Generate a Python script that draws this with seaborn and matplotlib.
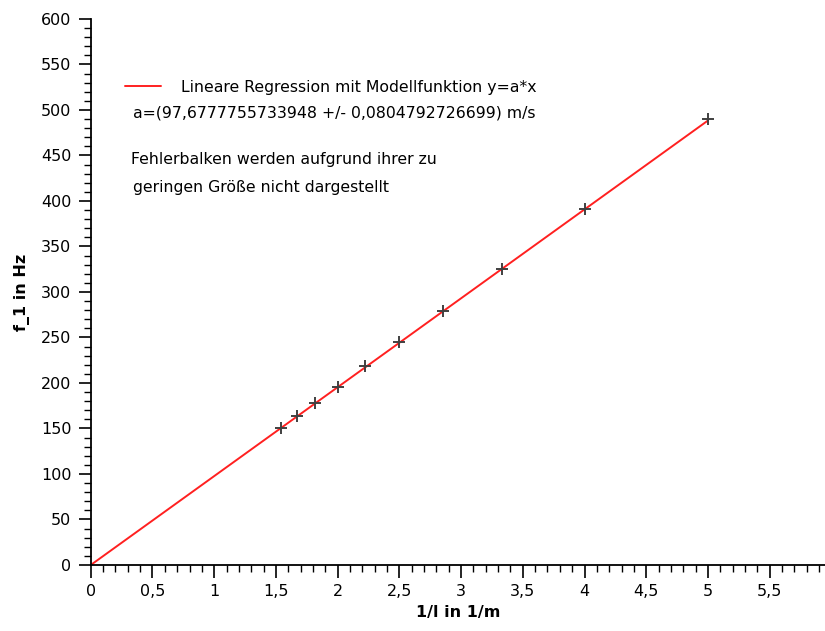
import numpy as np
import seaborn as sns
import matplotlib.pyplot as plt
from matplotlib.ticker import MultipleLocator, FuncFormatter

# Messwerte: inverse Saitenlaenge und Grundfrequenz
inv_length = [1.538, 1.667, 1.818, 2.0, 2.222, 2.5, 2.857, 3.333, 4.0, 5.0]
f1 = [150.5, 163.5, 178.0, 195.5, 218.5, 244.5, 279.5, 325.5, 391.0, 489.5]

# Regression y = a*x
a_fit = 97.6777755733948
fit_x = np.array([0.0, 5.0])
fit_y = a_fit * fit_x

sns.set_style("ticks")
plt.rcParams['font.family'] = ['DejaVu Sans']
plt.rcParams['text.color'] = 'black'
plt.rcParams['axes.labelcolor'] = 'black'
plt.rcParams['xtick.color'] = 'black'
plt.rcParams['ytick.color'] = 'black'

fig = plt.figure(figsize=(8.25, 6.31), dpi=100)
ax = fig.add_axes([0.110, 0.1046, 0.89, 0.8654])

sns.lineplot(x=fit_x, y=fit_y, color='#ff2020', linewidth=1.4, ax=ax,
             label='Lineare Regression mit Modellfunktion y=a*x')
sns.scatterplot(x=inv_length, y=f1, marker='+', s=70, color='#404040',
                linewidth=1.4, ax=ax, zorder=3)

ax.set_xlim(0, 5.948)
ax.set_ylim(0, 600)
ax.xaxis.set_major_locator(MultipleLocator(0.5))
ax.xaxis.set_minor_locator(MultipleLocator(0.1))
ax.yaxis.set_major_locator(MultipleLocator(50))
ax.yaxis.set_minor_locator(MultipleLocator(10))
ax.xaxis.set_major_formatter(FuncFormatter(lambda v, p: ('%g' % v).replace('.', ',')))
ax.tick_params(which='major', length=9, width=1.2, labelsize=11.5, pad=5)
ax.tick_params(which='minor', length=5, width=1.0)
for s in ['top', 'right']:
    ax.spines[s].set_visible(False)
for s in ['left', 'bottom']:
    ax.spines[s].set_linewidth(1.3)
    ax.spines[s].set_color('black')

ax.set_xlabel('1/l in 1/m', fontsize=11.5, fontweight='bold', labelpad=4)
ax.set_ylabel('f_1 in Hz', fontsize=11.5, fontweight='bold', labelpad=8)

ax.legend(loc='center left', bbox_to_anchor=(0.046, 0.875), frameon=False,
          fontsize=11.3, handlelength=2.3, handletextpad=1.3,
          borderpad=0, borderaxespad=0)
ax.text(0.057, 0.828, 'a=(97,6777755733948 +/- 0,0804792726699) m/s',
        transform=ax.transAxes, fontsize=11.3, va='center')
ax.text(0.055, 0.742, 'Fehlerbalken werden aufgrund ihrer zu',
        transform=ax.transAxes, fontsize=11.3, va='center')
ax.text(0.058, 0.692, 'geringen Größe nicht dargestellt',
        transform=ax.transAxes, fontsize=11.3, va='center')

fig.savefig('out.png', dpi=100)
